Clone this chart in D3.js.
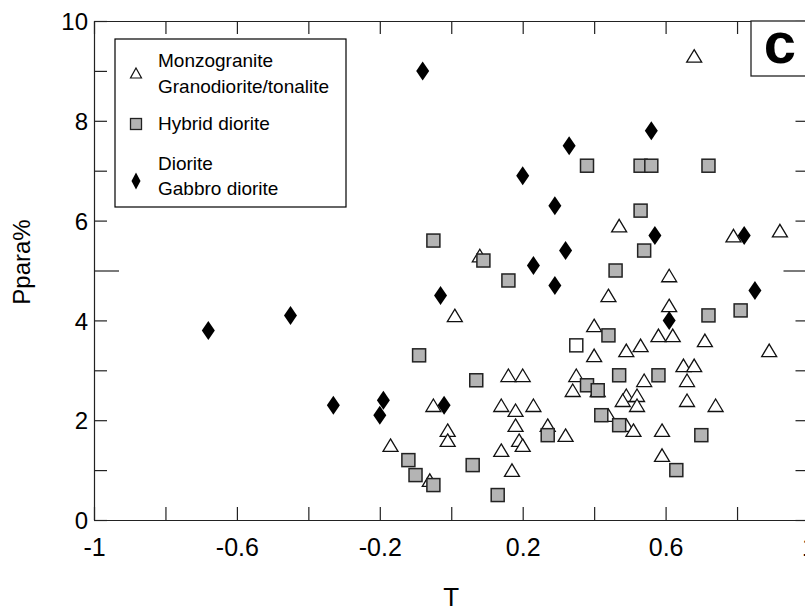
<!DOCTYPE html>
<html>
<head>
<meta charset="utf-8">
<script src="https://cdn.jsdelivr.net/npm/d3@7"></script>
<style>
  body { margin: 0; background: #fff; }
  svg { font-family: 'Liberation Sans', Arial, sans-serif; }
  .axis path, .axis line { stroke: #222; stroke-width: 1.2px; }
  .axis text { fill: #000; }
</style>
</head>
<body>
<div id="chart"></div>
<script>
// Monzogranite / Granodiorite-tonalite (open triangles): [T, Ppara%]
const graniteT = [0.68, 0.08, 0.01, 0.47, 0.79, 0.92, 0.61, 0.44, 0.61, 0.40, 0.58, 0.62, 0.71, 0.53, 0.49, 0.89,
    0.40, 0.65, 0.68, 0.16, 0.20, 0.35, 0.54, 0.66, 0.34, 0.41, 0.49, 0.52, 0.48, 0.52, 0.66, 0.74, 0.44, 0.49,
    0.51, 0.59, 0.32, 0.59, -0.05, 0.14, 0.18, 0.23, -0.01, -0.01, 0.18, 0.27, 0.19, 0.20, -0.17, 0.14, -0.06, 0.17];
const granitePpara = [9.3, 5.3, 4.1, 5.9, 5.7, 5.8, 4.9, 4.5, 4.3, 3.9, 3.7, 3.7, 3.6, 3.5, 3.4, 3.4,
    3.3, 3.1, 3.1, 2.9, 2.9, 2.9, 2.8, 2.8, 2.6, 2.6, 2.5, 2.5, 2.4, 2.3, 2.4, 2.3, 2.1, 1.9,
    1.8, 1.8, 1.7, 1.3, 2.3, 2.3, 2.2, 2.3, 1.8, 1.6, 1.9, 1.9, 1.6, 1.5, 1.5, 1.4, 0.8, 1.0];

// Hybrid diorite (grey squares)
const hybridT = [0.38, 0.53, 0.56, 0.72, 0.53, -0.05, 0.09, 0.16, 0.54, 0.46, 0.72, 0.81, 0.44, -0.09, 0.07,
    0.47, 0.58, 0.38, 0.41, 0.42, 0.47, 0.70, 0.63, 0.27, -0.12, 0.06, -0.10, -0.05, 0.13];
const hybridPpara = [7.1, 7.1, 7.1, 7.1, 6.2, 5.6, 5.2, 4.8, 5.4, 5.0, 4.1, 4.2, 3.7, 3.3, 2.8,
    2.9, 2.9, 2.7, 2.6, 2.1, 1.9, 1.7, 1.0, 1.7, 1.2, 1.1, 0.9, 0.7, 0.5];

// Single open square in the plot
const openSquareT = [0.35];
const openSquarePpara = [3.5];

// Diorite / Gabbro diorite (black diamonds)
const dioriteT = [-0.08, 0.33, 0.20, 0.29, 0.56, 0.32, 0.23, 0.29, -0.03, 0.57, 0.82, 0.85, 0.61, -0.68, -0.45,
    -0.33, -0.19, -0.20, -0.02];
const dioritePpara = [9.0, 7.5, 6.9, 6.3, 7.8, 5.4, 5.1, 4.7, 4.5, 5.7, 5.7, 4.6, 4.0, 3.8, 4.1,
    2.3, 2.4, 2.1, 2.3];

const xTicks = [-1, -0.8, -0.6, -0.4, -0.2, 0, 0.2, 0.4, 0.6, 0.8, 1];
const xTickLabels = ['-1', '-0.6', '-0.2', '0.2', '0.6', '1'];
const yTicks = [0, 1, 2, 3, 4, 5, 6, 7, 8, 9, 10];
const yTickLabels = ['0', '2', '4', '6', '8', '10'];

const svgWidth = 805;
const svgHeight = 612;
const plot = {left: 94, right: 808.5, top: 21, bottom: 520};
const tickLen = 13;

const x = d3.scaleLinear().domain([-1, 1]).range([plot.left, plot.right]);
const y = d3.scaleLinear().domain([0, 10]).range([plot.bottom, plot.top]);

const zip = (a, b) => a.map((v, i) => [v, b[i]]);

// Marker shapes, centred on (0,0)
const trianglePath = (w, h) => 'M0,' + (-h / 2) + 'L' + (w / 2) + ',' + (h / 2) + 'L' + (-w / 2) + ',' + (h / 2) + 'Z';
const diamondPath = (w, h) => 'M0,' + (-h / 2) + 'L' + (w / 2) + ',0L0,' + (h / 2) + 'L' + (-w / 2) + ',0Z';

const svg = d3.select('#chart').append('svg')
    .attr('width', svgWidth)
    .attr('height', svgHeight);

// Frame axes with inward ticks
const labelFmt = (labels, fmt) => d => labels.includes(fmt(d)) ? fmt(d) : '';
const fmtX = d => (Math.round(d * 10) / 10).toString();

svg.append('g')
    .attr('class', 'axis')
    .attr('transform', 'translate(0,' + plot.bottom + ')')
    .style('font-size', '25px')
    .call(d3.axisBottom(x).tickValues(xTicks).tickSizeInner(-tickLen).tickSizeOuter(0).tickPadding(18)
        .tickFormat(labelFmt(xTickLabels, fmtX)));

svg.append('g')
    .attr('class', 'axis')
    .attr('transform', 'translate(0,' + plot.top + ')')
    .call(d3.axisTop(x).tickValues(xTicks).tickSizeInner(-tickLen).tickSizeOuter(0).tickFormat(''));

const leftAxis = svg.append('g')
    .attr('class', 'axis')
    .attr('transform', 'translate(' + plot.left + ',0)')
    .style('font-size', '24px')
    .call(d3.axisLeft(y).tickValues(yTicks).tickSizeInner(-tickLen).tickSizeOuter(0).tickPadding(6)
        .tickFormat(labelFmt(yTickLabels, d => d.toString())));
leftAxis.selectAll('.tick').filter(d => d === 5).select('line').attr('x2', 25);
leftAxis.selectAll('.tick text').attr('dy', '0.36em');

const rightAxis = svg.append('g')
    .attr('class', 'axis')
    .attr('transform', 'translate(' + plot.right + ',0)')
    .call(d3.axisRight(y).tickValues(yTicks).tickSizeInner(-tickLen).tickSizeOuter(0).tickFormat(''));
rightAxis.selectAll('.tick').filter(d => d === 5).select('line').attr('x2', -25);

// Axis titles
svg.append('text')
    .attr('x', x(0))
    .attr('y', 606)
    .attr('text-anchor', 'middle')
    .style('font-size', '26px')
    .text('T');

svg.append('text')
    .attr('transform', 'translate(30,262) rotate(-90)')
    .attr('text-anchor', 'middle')
    .style('font-size', '24px')
    .text('Ppara%');

// Data points
const marks = svg.append('g');

marks.selectAll('path.granite')
    .data(zip(graniteT, granitePpara))
    .enter().append('path')
    .attr('class', 'granite')
    .attr('d', trianglePath(15, 12.5))
    .attr('transform', d => 'translate(' + x(d[0]) + ',' + y(d[1]) + ')')
    .attr('fill', '#fff')
    .attr('stroke', '#111')
    .attr('stroke-width', 1.3);

marks.selectAll('rect.hybrid')
    .data(zip(hybridT, hybridPpara))
    .enter().append('rect')
    .attr('class', 'hybrid')
    .attr('x', d => x(d[0]) - 6.5)
    .attr('y', d => y(d[1]) - 6.5)
    .attr('width', 13)
    .attr('height', 13)
    .attr('fill', '#b4b4b4')
    .attr('stroke', '#222')
    .attr('stroke-width', 1.5);

marks.selectAll('rect.open')
    .data(zip(openSquareT, openSquarePpara))
    .enter().append('rect')
    .attr('class', 'open')
    .attr('x', d => x(d[0]) - 6.5)
    .attr('y', d => y(d[1]) - 6.5)
    .attr('width', 13)
    .attr('height', 13)
    .attr('fill', '#fff')
    .attr('stroke', '#222')
    .attr('stroke-width', 1.5);

marks.selectAll('path.diorite')
    .data(zip(dioriteT, dioritePpara))
    .enter().append('path')
    .attr('class', 'diorite')
    .attr('d', diamondPath(13, 19))
    .attr('transform', d => 'translate(' + x(d[0]) + ',' + y(d[1]) + ')')
    .attr('fill', '#000');

// Legend
const legend = svg.append('g');
legend.append('rect')
    .attr('x', 115).attr('y', 39)
    .attr('width', 231).attr('height', 168)
    .attr('fill', '#fff')
    .attr('stroke', '#000')
    .attr('stroke-width', 1.2);

legend.append('path')
    .attr('d', trianglePath(11, 10))
    .attr('transform', 'translate(136,73)')
    .attr('fill', '#fff').attr('stroke', '#111').attr('stroke-width', 1.2);
legend.append('rect')
    .attr('x', 130.5).attr('y', 118.5).attr('width', 11).attr('height', 11)
    .attr('fill', '#b4b4b4').attr('stroke', '#222').attr('stroke-width', 1.3);
legend.append('path')
    .attr('d', diamondPath(9, 17))
    .attr('transform', 'translate(136,181)')
    .attr('fill', '#000');

const legendLines = [['Monzogranite', 67], ['Granodiorite/tonalite', 93], ['Hybrid diorite', 130],
    ['Diorite', 170], ['Gabbro diorite', 195]];
legend.selectAll('text')
    .data(legendLines)
    .enter().append('text')
    .attr('x', 158)
    .attr('y', d => d[1])
    .style('font-size', '19px')
    .text(d => d[0]);

// Panel label
svg.append('rect')
    .attr('x', 751).attr('y', plot.top)
    .attr('width', plot.right - 751).attr('height', 55)
    .attr('fill', '#fff')
    .attr('stroke', '#222')
    .attr('stroke-width', 1.3);
svg.append('text')
    .attr('x', 780)
    .attr('y', 63)
    .attr('text-anchor', 'middle')
    .style('font-size', '58px')
    .style('font-weight', 'bold')
    .text('c');
</script>
</body>
</html>
